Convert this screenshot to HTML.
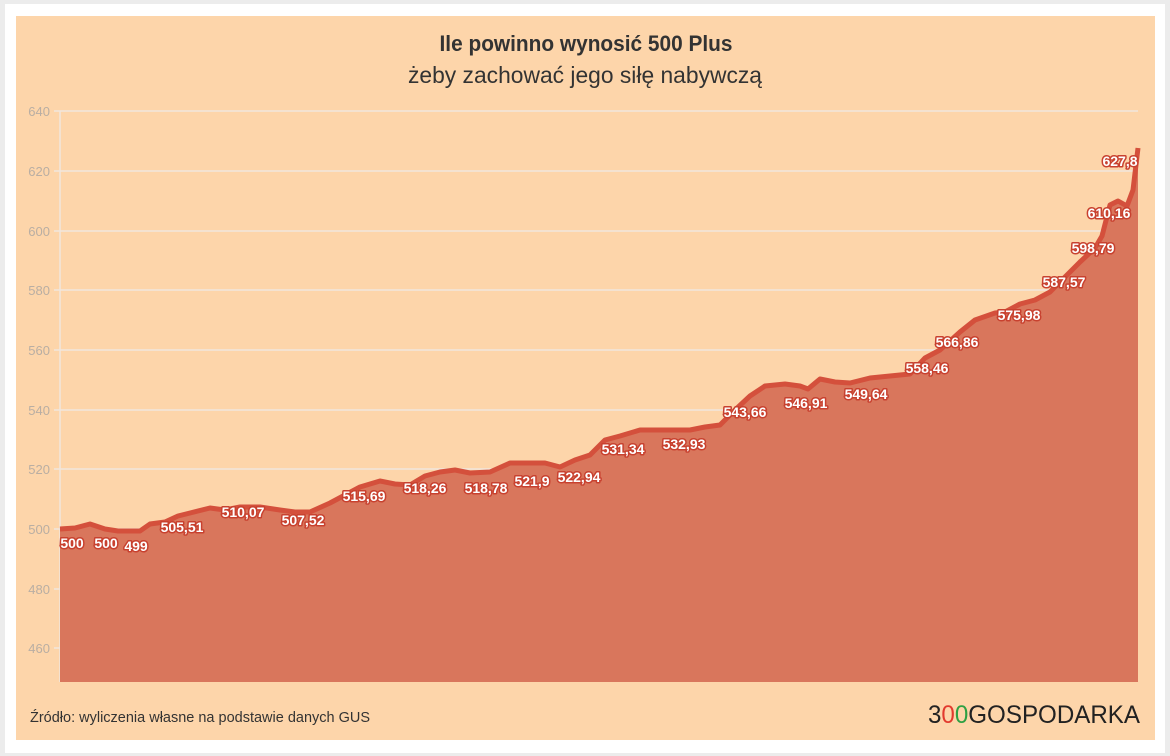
<!DOCTYPE html>
<html><head><meta charset="utf-8"><style>
html,body{margin:0;padding:0;background:#ececec;}
</style></head><body>
<svg width="1170" height="756" viewBox="0 0 1170 756" xmlns="http://www.w3.org/2000/svg" style="display:block">
<rect x="0" y="0" width="1170" height="756" fill="#ececec"/>
<rect x="5" y="4" width="1160" height="749" fill="#ffffff"/>
<rect x="16" y="16" width="1139" height="724" fill="#fdd5aa"/>
<g font-family="'Liberation Sans Narrow','Liberation Sans',sans-serif" fill="#333">
<text x="586" y="51" text-anchor="middle" font-size="22" font-weight="bold" textLength="293" lengthAdjust="spacingAndGlyphs">Ile powinno wynosić 500 Plus</text>
<text x="585" y="83" text-anchor="middle" font-size="23" font-family="'Liberation Sans',sans-serif" textLength="354" lengthAdjust="spacingAndGlyphs">żeby zachować jego siłę nabywczą</text>
</g>
<g stroke="#f1e6dc" stroke-width="1.5">
<line x1="54" y1="111" x2="1138" y2="111"/>
<line x1="54" y1="171" x2="1138" y2="171"/>
<line x1="54" y1="231" x2="1138" y2="231"/>
<line x1="54" y1="290" x2="1138" y2="290"/>
<line x1="54" y1="350" x2="1138" y2="350"/>
<line x1="54" y1="410" x2="1138" y2="410"/>
<line x1="54" y1="469" x2="1138" y2="469"/>
<line x1="54" y1="529" x2="1138" y2="529"/>
<line x1="54" y1="589" x2="1138" y2="589"/>
<line x1="54" y1="648" x2="1138" y2="648"/>
<line x1="60" y1="111" x2="60" y2="682"/>
</g>
<g font-family="'Liberation Sans',sans-serif" font-size="13" fill="#b9aea3" text-anchor="end">
<text x="50" y="116">640</text><text x="50" y="176">620</text><text x="50" y="236">600</text>
<text x="50" y="295">580</text><text x="50" y="355">560</text><text x="50" y="415">540</text>
<text x="50" y="474">520</text><text x="50" y="534">500</text><text x="50" y="594">480</text>
<text x="50" y="653">460</text>
</g>
<path fill="#d9765c" d="M60,682 L60,529 L75,528 L90,524 L105,529 L118,531 L140,531 L150,524 L165,522 L178,516 L190,513 L210,508 L225,510 L240,507 L260,507 L280,510 L295,512 L310,512 L330,503 L345,495 L360,487 L380,481 L395,484 L410,485 L425,476 L440,472 L455,470 L470,473 L490,472 L510,463 L545,463 L560,467 L575,460 L590,455 L605,440 L620,436 L640,430 L690,430 L705,427 L720,425 L735,410 L750,396 L765,386 L785,384 L800,386 L808,389 L820,379 L835,382 L850,383 L870,378 L890,376 L910,374 L925,358 L940,350 L960,332 L975,320 L995,313 L1005,312 L1020,304 L1035,300 L1050,292 L1065,277 L1080,262 L1095,248 L1102,236 L1110,205 L1118,201 L1127,206 L1133,190 L1138,148 L1138,682 Z"/>
<path fill="none" stroke="#d4503c" stroke-width="5" stroke-linejoin="round" d="M60,529 L75,528 L90,524 L105,529 L118,531 L140,531 L150,524 L165,522 L178,516 L190,513 L210,508 L225,510 L240,507 L260,507 L280,510 L295,512 L310,512 L330,503 L345,495 L360,487 L380,481 L395,484 L410,485 L425,476 L440,472 L455,470 L470,473 L490,472 L510,463 L545,463 L560,467 L575,460 L590,455 L605,440 L620,436 L640,430 L690,430 L705,427 L720,425 L735,410 L750,396 L765,386 L785,384 L800,386 L808,389 L820,379 L835,382 L850,383 L870,378 L890,376 L910,374 L925,358 L940,350 L960,332 L975,320 L995,313 L1005,312 L1020,304 L1035,300 L1050,292 L1065,277 L1080,262 L1095,248 L1102,236 L1110,205 L1118,201 L1127,206 L1133,190 L1138,148"/>
<g font-family="'Liberation Sans',sans-serif" font-size="14" font-weight="bold" text-anchor="middle" fill="#fff" stroke="#c8412f" stroke-width="3" paint-order="stroke" stroke-linejoin="round">
<text x="72" y="548">500</text><text x="106" y="548">500</text><text x="136" y="551">499</text>
<text x="182" y="532">505,51</text><text x="243" y="517">510,07</text><text x="303" y="525">507,52</text>
<text x="364" y="501">515,69</text><text x="425" y="493">518,26</text><text x="486" y="493">518,78</text>
<text x="532" y="486">521,9</text><text x="579" y="482">522,94</text><text x="623" y="454">531,34</text>
<text x="684" y="449">532,93</text><text x="745" y="417">543,66</text><text x="806" y="408">546,91</text>
<text x="866" y="399">549,64</text><text x="927" y="373">558,46</text><text x="957" y="347">566,86</text>
<text x="1019" y="320">575,98</text><text x="1064" y="287">587,57</text><text x="1093" y="253">598,79</text>
<text x="1109" y="218">610,16</text><text x="1120" y="166">627,8</text>
</g>
<text x="30" y="722" font-family="'Liberation Sans',sans-serif" font-size="15" fill="#333" textLength="340" lengthAdjust="spacingAndGlyphs">Źródło: wyliczenia własne na podstawie danych GUS</text>
<text x="928" y="723" font-family="'Liberation Sans',sans-serif" font-size="25" fill="#222" textLength="212" lengthAdjust="spacingAndGlyphs">3<tspan fill="#e23a2e">0</tspan><tspan fill="#2ea043">0</tspan>GOSPODARKA</text>
</svg>
</body></html>
